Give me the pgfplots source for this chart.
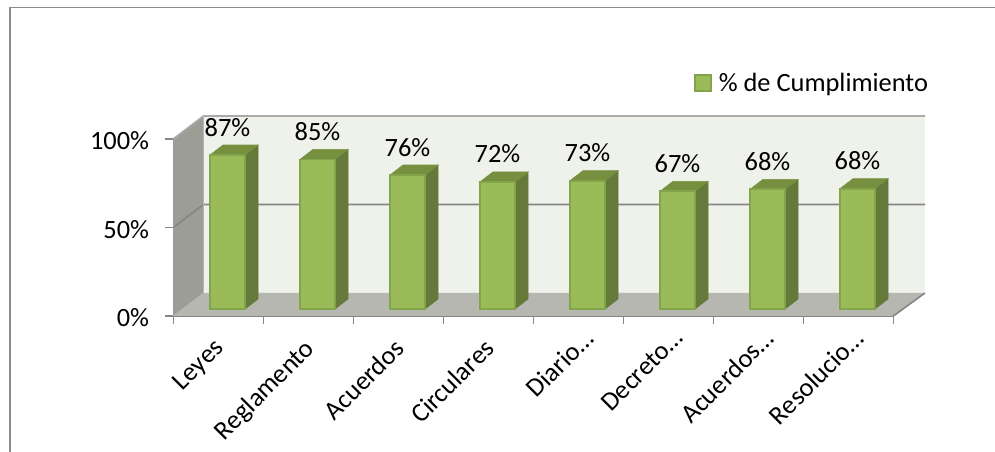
\documentclass[border=0pt]{standalone}
\usepackage{fontspec}
\setmainfont{Carlito}
\usepackage{pgfplots}
\pgfplotsset{compat=1.18}

\definecolor{barfront}{HTML}{9BBB59}
\definecolor{baredge}{HTML}{82A44A}
\definecolor{barside}{HTML}{65793A}
\definecolor{bartop}{HTML}{76903F}
\definecolor{backwall}{HTML}{EFF2EB}
\definecolor{sidewall}{HTML}{9C9E96}
\definecolor{floorcol}{HTML}{B5B7B0}
\definecolor{gridcol}{HTML}{868686}
\definecolor{framecol}{HTML}{8C8C8C}

% side and top face of one bar: position, value
\newcommand{\bardepth}[2]{%
  \pgfmathsetmacro\xa{#1+0.195}%
  \pgfmathsetmacro\xb{#1+0.195+0.1444}%
  \pgfmathsetmacro\xc{#1-0.195}%
  \pgfmathsetmacro\xd{#1-0.195+0.1444}%
  \pgfmathsetmacro\yt{#2+5.65}%
  \edef\temp{\noexpand\addplot[fill=barside,draw=barside,forget plot]
    coordinates {(\xa,0) (\xb,5.65) (\xb,\yt) (\xa,#2)} --cycle;
    \noexpand\addplot[fill=bartop,draw=bartop,forget plot]
    coordinates {(\xc,#2) (\xd,\yt) (\xb,\yt) (\xa,#2)} --cycle;}%
  \temp
}
% cut labels sit a little further along their slope
\newcommand{\cutlabel}[1]{\mbox{#1…\hspace{-10pt}}}

\begin{document}
\begin{tikzpicture}
\path[use as bounding box] (0,0) rectangle (746.25pt,339pt);
\draw[framecol,line width=1pt] (7.5pt,0) -- (7.5pt,333.5pt) -- (746.25pt,333.5pt);

% walls, floor and scales
\begin{axis}[
    at={(130pt,102pt)}, anchor=south west,
    scale only axis, width=540pt, height=132.75pt,
    xmin=-0.5, xmax=7.5, ymin=0, ymax=100,
    clip=false,
    axis x line=bottom, axis y line=left,
    axis line style={-,draw=gridcol,line width=1.2pt},
    tick align=outside,
    ytick={0,50,100},
    yticklabels={0\%,50\%,100\%},
    xtick={0,1,2,3,4,5,6,7},
    xticklabels={Leyes,Reglamento,Acuerdos,Circulares,\cutlabel{Diario},\cutlabel{Decreto},\cutlabel{Acuerdos},\cutlabel{Resolucio}},
    minor xtick={-0.5,0.5,1.5,2.5,3.5,4.5,5.5,6.5,7.5},
    major tick length=6pt, minor tick length=6pt,
    xtick style={draw=none},
    minor x tick style={draw=gridcol,line width=1pt},
    ytick style={draw=gridcol,line width=1pt},
    tick label style={font=\fontsize{19.8}{22}\selectfont},
    yticklabel style={inner sep=0pt,xshift=-12pt,yshift=-1.5pt},
    xticklabel style={rotate=45,anchor=north east,inner sep=0pt,xshift=-9.8pt,yshift=-3.9pt},
]
\addplot[fill=backwall,draw=none] coordinates {(-0.1644,13) (7.852,13) (7.852,113) (-0.1644,113)} --cycle;
\addplot[fill=sidewall,draw=none] coordinates {(-0.5,0) (-0.1644,13) (-0.1644,113) (-0.5,100)} --cycle;
\addplot[fill=floorcol,draw=none] coordinates {(-0.5,0) (7.5,0) (7.852,13) (-0.1644,13)} --cycle;
\addplot[gridcol,line width=1.3pt] coordinates {(-0.5,50) (-0.1644,63) (7.852,63)};
\addplot[gridcol!70,line width=1.3pt] coordinates {(-0.5,100) (-0.1644,113) (7.852,113)};
\addplot[gridcol!80,line width=1pt] coordinates {(-0.5,0) (-0.5,100)};
\addplot[gridcol!60,line width=0.6pt] coordinates {(-0.5,0) (-0.1644,13) (-0.1644,113)};
\addplot[gridcol,line width=1.2pt] coordinates {(7.5,0) (7.852,13)};
\end{axis}

% bars, lifted onto the floor
\begin{axis}[
    at={(136.9pt,107.25pt)}, anchor=south west,
    scale only axis, width=540pt, height=132.75pt,
    xmin=-0.5, xmax=7.5, ymin=0, ymax=100,
    clip=false, hide axis,
    legend style={at={(rel axis cs:0.7105,1.275)},anchor=west,draw=none,fill=none,
      font=\fontsize{19.8}{22}\selectfont,inner sep=0pt,
      legend cell align=left},
    legend image code/.code={\draw[#1,line width=1.3pt] (0cm,-6pt) rectangle (12pt,6pt);},
]
\bardepth{0}{87}
\bardepth{1}{84.5}
\bardepth{2}{75.7}
\bardepth{3}{71.8}
\bardepth{4}{72.5}
\bardepth{5}{66.5}
\bardepth{6}{67.6}
\bardepth{7}{68}
\addplot[ybar,bar width=0.39,bar shift=0pt,fill=barfront,draw=baredge,line width=1.3pt,
    nodes near coords={\pgfmathprintnumber[fixed,precision=0,assume math mode=true]{\pgfplotspointmeta}\%},
    every node near coord/.append style={font=\fontsize{19.8}{22}\selectfont,text=black,
      anchor=base,inner sep=0pt,yshift=14.25pt}]
coordinates {(0,87) (1,84.5) (2,75.7) (3,71.8) (4,72.5) (5,66.5) (6,67.6) (7,68)};
\addlegendentry{\hspace{3pt}\% de Cumplimiento}
\end{axis}
\end{tikzpicture}
\end{document}
